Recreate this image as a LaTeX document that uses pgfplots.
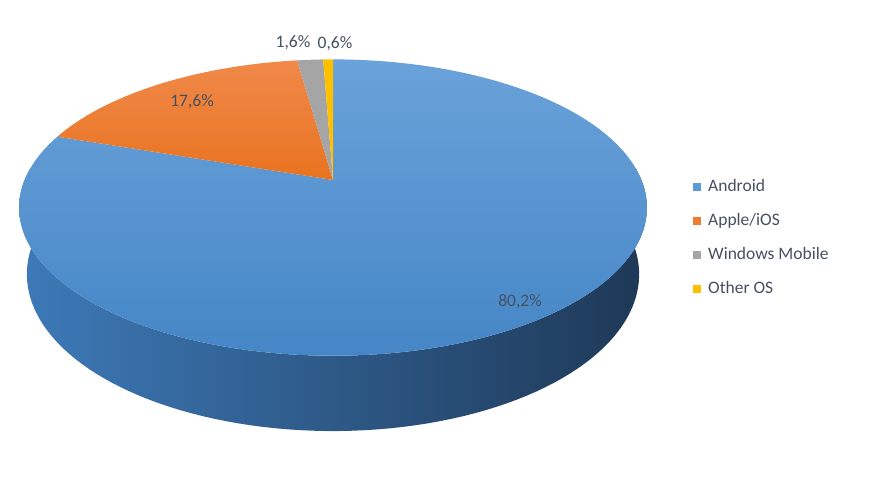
\documentclass[border=0pt]{standalone}
\usepackage{pgfplots}
\pgfplotsset{compat=1.18}
\usepackage{pgfplotstable}
\usepackage{fontspec}
\setmainfont{Carlito}
\definecolor{andTop}{HTML}{6AA2DA}
\definecolor{andBot}{HTML}{4586C6}
\definecolor{sideL}{HTML}{3D7AB8}
\definecolor{sideM}{HTML}{28507A}
\definecolor{sideR}{HTML}{1E3856}
\definecolor{appTop}{HTML}{F0894A}
\definecolor{appBot}{HTML}{E9731F}
\definecolor{winGray}{HTML}{A5A5A5}
\definecolor{othYel}{HTML}{FFC000}
\definecolor{andLeg}{HTML}{5B9BD5}
\definecolor{appLeg}{HTML}{ED7D31}
\definecolor{txt}{HTML}{46505F}
\pgfplotstableread{
os share
Android 80.2
Apple 17.6
Windows 1.6
Other 0.6
}\sharetable
\begin{document}
\begin{tikzpicture}
\pgfplotstablegetelem{0}{share}\of\sharetable\let\sA\pgfplotsretval
\pgfplotstablegetelem{1}{share}\of\sharetable\let\sB\pgfplotsretval
\pgfplotstablegetelem{2}{share}\of\sharetable\let\sC\pgfplotsretval
\pgfplotstablegetelem{3}{share}\of\sharetable\let\sD\pgfplotsretval
\pgfmathsetmacro\eA{90-3.6*\sA}
\pgfmathsetmacro\eB{\eA-3.6*\sB}
\pgfmathsetmacro\eC{\eB-3.6*\sC}
\pgfmathsetmacro\eD{\eC-3.6*\sD}
\begin{axis}[
  width=880pt, height=486pt, scale only axis,
  xmin=0, xmax=880, ymin=0, ymax=486,
  hide axis, clip=false,
  declare function={
    sx(\p,\h)=333+1465*cos(\p)/(4.75+sin(\p)*0.884-\h*0.467);
    sy(\p,\h)=306+1455*(sin(\p)*0.467+\h*0.884)/(4.75+sin(\p)*0.884-\h*0.467);
    ph(\u)=(\u<=5)*\u+(\u>5)*(12-\u);
    hh(\u)=(\u>5)*(-0.249);
  },
  legend style={at={(axis cs:690,248)}, anchor=west, draw=none, fill=none,
    font=\fontsize{17.5}{20}\selectfont, text=txt,
    nodes={inner sep=0pt, text height=13pt, text depth=4pt},
    row sep=17pt},
  legend cell align=left,
  legend image code/.code={\path[#1,draw=none] (0pt,-4pt) rectangle (8pt,4pt);\path[draw=none,fill=none] (0pt,0pt) -- (15pt,0pt);},
]
% side wall
\addplot[draw=none, left color=sideL, middle color=sideM, right color=sideR,
  domain=-185:195, samples=191, forget plot]
  ({sx(ph(x),hh(x))},{sy(ph(x),hh(x))}) -- cycle;
% top face slices
\addplot[draw=none, top color=andTop, bottom color=andBot, domain=\eA:90, samples=200, forget plot]
  ({sx(x,0)},{sy(x,0)}) -- (axis cs:333,306) -- cycle;
\addplot[draw=none, top color=appTop, bottom color=appBot, domain=\eB:\eA, samples=60, forget plot]
  ({sx(x,0)},{sy(x,0)}) -- (axis cs:333,306) -- cycle;
\addplot[draw=none, fill=winGray, domain=\eC:\eB, samples=10, forget plot]
  ({sx(x,0)},{sy(x,0)}) -- (axis cs:333,306) -- cycle;
\addplot[draw=none, fill=othYel, domain=\eD:\eC, samples=10, forget plot]
  ({sx(x,0)},{sy(x,0)}) -- (axis cs:333,306) -- cycle;
% data labels
\begin{scope}[every node/.style={font=\fontsize{17.5}{20}\selectfont, text=txt}]
\node at (axis cs:520,184) {80,2\%};
\node at (axis cs:192,384) {17,6\%};
\node at (axis cs:293,443) {1,6\%};
\node at (axis cs:335,442) {0,6\%};
\end{scope}
% legend
\addlegendimage{draw=none, fill=andLeg}\addlegendentry{Android}
\addlegendimage{draw=none, fill=appLeg}\addlegendentry{Apple/iOS}
\addlegendimage{draw=none, fill=winGray}\addlegendentry{Windows Mobile}
\addlegendimage{draw=none, fill=othYel}\addlegendentry{Other OS}
\path (axis cs:0,0) rectangle (axis cs:880,486);
\end{axis}
\end{tikzpicture}
\end{document}
